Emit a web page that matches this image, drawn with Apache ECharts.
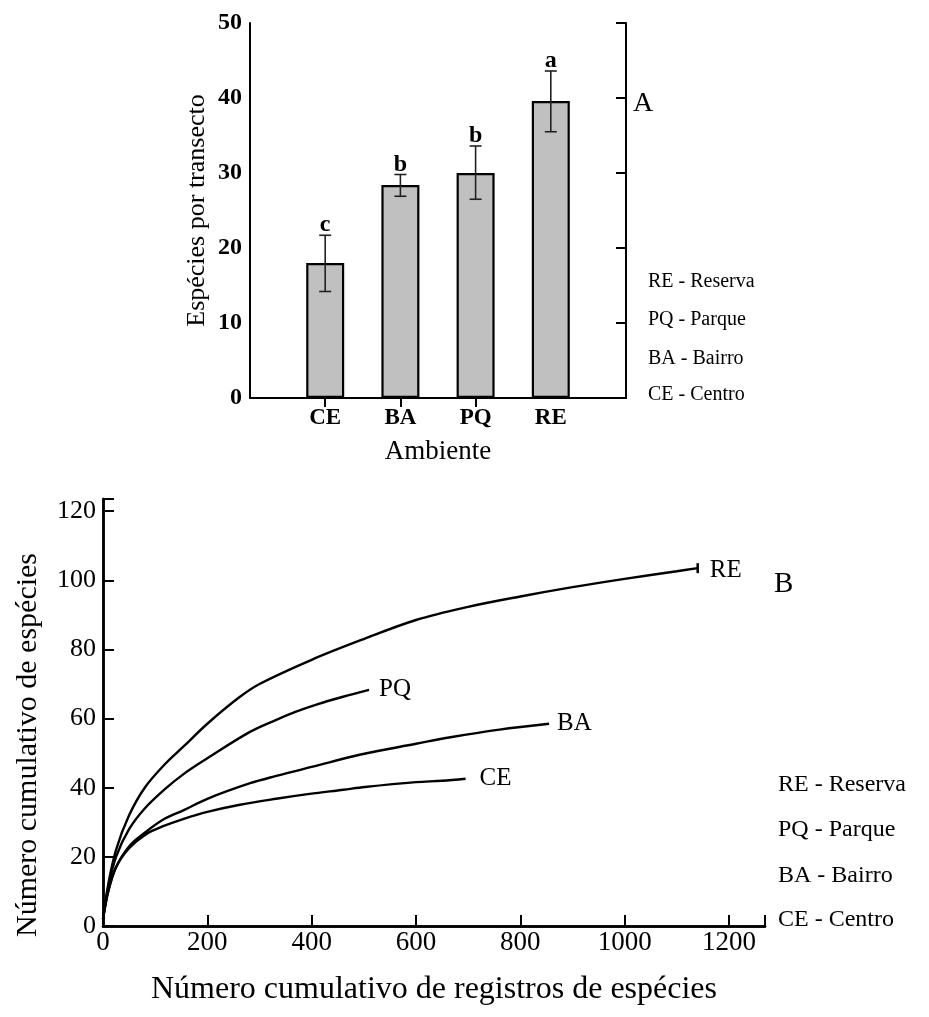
<!DOCTYPE html>
<html>
<head>
<meta charset="utf-8">
<script src="https://cdn.jsdelivr.net/npm/echarts@6/dist/echarts.min.js"></script>
<style>
html,body{margin:0;padding:0;background:#fff;}
#main{width:929px;height:1017px;}
</style>
</head>
<body>
<div id="main"></div>
<script>
// ---------- Panel A data ----------
const categoriesA = ['CE', 'BA', 'PQ', 'RE'];
const meansA = [18.0, 28.4, 30.0, 39.6];
const lowA = [14.2, 26.9, 26.5, 35.5];
const highA = [21.7, 29.8, 33.6, 43.6];
const lettersA = ['c', 'b', 'b', 'a'];
const legendLines = ['RE - Reserva', 'PQ - Parque', 'BA - Bairro', 'CE - Centro'];

// ---------- Panel B data (cumulative species vs cumulative records) ----------
const reX = [0, 10, 25, 50, 80, 120, 155, 200, 260, 300, 400, 500, 600, 700, 800, 900, 1000, 1100, 1140];
const reY = [2, 12, 22, 32, 40, 47, 52, 58.5, 66, 70, 77, 83, 88.5, 92.3, 95.3, 98, 100.4, 102.6, 103.5];
const pqX = [0, 10, 25, 50, 80, 118, 155, 200, 280, 330, 370, 412, 460, 510];
const pqY = [2, 11, 20, 28, 34, 39.5, 44, 48.5, 56, 59.5, 62, 64.2, 66.3, 68.3];
const baX = [0, 10, 25, 50, 82, 118, 155, 200, 282, 332, 400, 494, 600, 666, 760, 855];
const baY = [2, 10, 17, 23, 27.2, 31, 33.5, 36.8, 41.3, 43.4, 46, 49.6, 52.7, 54.6, 56.8, 58.5];
const ceX = [0, 10, 25, 50, 82, 118, 155, 200, 260, 332, 396, 461, 502, 600, 650, 695];
const ceY = [2, 10, 17, 22.5, 26.5, 29, 31, 33, 35, 36.8, 38.2, 39.4, 40.2, 41.6, 42, 42.6];

const serif = '"Liberation Serif","Times New Roman",serif';
const pairs = (xs, ys) => xs.map((x, i) => [x, ys[i]]);

const axisCatA = [''].concat(categoriesA, ['']);
const barData = [null].concat(meansA, [null]);
const errData = categoriesA.map((c, i) => [i + 1, lowA[i], highA[i], lettersA[i]]);

const chart = echarts.init(document.getElementById('main'), null, {renderer: 'canvas'});

const lineSeries = (name, xs, ys, labelOffset, endMark) => {
  const s = {
    type: 'line', name: name, xAxisIndex: 2, yAxisIndex: 2,
    data: pairs(xs, ys), showSymbol: false, symbol: 'none',
    smooth: 0.35,
    lineStyle: {color: '#000', width: 2.4},
    endLabel: {show: true, formatter: name, fontFamily: serif, fontSize: 25, color: '#000', offset: labelOffset},
    silent: true, animation: false, z: 3
  };
  if (endMark) {
    s.markPoint = {
      symbol: 'rect', symbolSize: [2.5, 10], silent: true,
      itemStyle: {color: '#000'}, label: {show: false},
      data: [{coord: [xs[xs.length - 1], ys[ys.length - 1]]}]
    };
  }
  return s;
};

const option = {
  animation: false,
  backgroundColor: '#fff',
  grid: [
    {left: 250, top: 23, width: 376, height: 375},
    {left: 103, top: 499, width: 662, height: 427}
  ],
  xAxis: [
    { // A bottom
      type: 'category', gridIndex: 0, data: axisCatA, boundaryGap: false,
      axisLine: {lineStyle: {color: '#000', width: 2}},
      axisTick: {show: false},
      axisLabel: {fontFamily: serif, fontWeight: 'bold', fontSize: 23, color: '#000', margin: 9, interval: 0},
      name: 'Ambiente', nameLocation: 'middle', nameGap: 40,
      nameTextStyle: {fontFamily: serif, fontSize: 27, color: '#000'}
    },
    { // A top
      type: 'category', gridIndex: 0, data: axisCatA, boundaryGap: false, position: 'top',
      axisLine: {show: true, lineStyle: {color: '#000', width: 2}},
      axisTick: {show: true, inside: true, length: 9, lineStyle: {width: 2, color: '#000'},
                 interval: function (idx) { return idx >= 1 && idx <= 3; }},
      axisLabel: {show: false}
    },
    { // B bottom
      type: 'value', gridIndex: 1, min: 0, max: 1269, interval: 200,
      axisLine: {lineStyle: {color: '#000', width: 2.5}},
      axisTick: {inside: true, length: 11, lineStyle: {width: 2, color: '#000'}},
      splitLine: {show: false},
      axisLabel: {fontFamily: serif, fontSize: 27, color: '#000', margin: 3,
                  formatter: function (v) { return v % 200 === 0 ? String(v) : ''; }},
      name: 'Número cumulativo de registros de espécies', nameLocation: 'middle', nameGap: 48,
      nameTextStyle: {fontFamily: serif, fontSize: 32, color: '#000'}
    },
    { // B top
      type: 'value', gridIndex: 1, min: 0, max: 1269, position: 'top',
      axisLine: {show: true, lineStyle: {color: '#000', width: 2.5}},
      axisTick: {show: false}, axisLabel: {show: false}, splitLine: {show: false}
    }
  ],
  yAxis: [
    { // A left
      type: 'value', gridIndex: 0, min: 0, max: 50, interval: 10,
      axisLine: {show: true, lineStyle: {color: '#000', width: 2}},
      axisTick: {show: false}, splitLine: {show: false},
      axisLabel: {fontFamily: serif, fontWeight: 'bold', fontSize: 24, color: '#000', margin: 8},
      name: 'Espécies por transecto', nameLocation: 'middle', nameGap: 40,
      nameTextStyle: {fontFamily: serif, fontSize: 26, color: '#000'}
    },
    { // A right
      type: 'value', gridIndex: 0, min: 0, max: 50, interval: 10, position: 'right',
      axisLine: {show: true, lineStyle: {color: '#000', width: 2}},
      axisTick: {show: true, inside: true, length: 10, lineStyle: {width: 2, color: '#000'}},
      axisLabel: {show: false}, splitLine: {show: false}
    },
    { // B left
      type: 'value', gridIndex: 1, min: 0, max: 123.5, interval: 20,
      axisLine: {show: true, lineStyle: {color: '#000', width: 2.5}},
      axisTick: {show: true, inside: true, length: 11, lineStyle: {width: 2, color: '#000'}},
      splitLine: {show: false},
      axisLabel: {fontFamily: serif, fontSize: 26, color: '#000', margin: 7,
                  formatter: function (v) { return v % 20 === 0 ? String(v) : ''; }}
    },
    { // B right
      type: 'value', gridIndex: 1, min: 0, max: 123.5, position: 'right',
      axisLine: {show: true, lineStyle: {color: '#000', width: 2.5}},
      axisTick: {show: false}, axisLabel: {show: false}, splitLine: {show: false}
    }
  ],
  series: [
    {
      type: 'bar', xAxisIndex: 0, yAxisIndex: 0, data: barData, barWidth: 38,
      itemStyle: {color: '#c0c0c0', borderColor: '#000', borderWidth: 2.2},
      silent: true, z: 2
    },
    {
      type: 'custom', xAxisIndex: 0, yAxisIndex: 0, data: errData, silent: true, z: 5,
      renderItem: function (params, api) {
        const x = api.value(0);
        const lo = api.coord([x, api.value(1)]);
        const hi = api.coord([x, api.value(2)]);
        const cap = 6;
        const st = {stroke: '#222', lineWidth: 1.6};
        return {
          type: 'group',
          children: [
            {type: 'line', shape: {x1: lo[0], y1: lo[1], x2: hi[0], y2: hi[1]}, style: st},
            {type: 'line', shape: {x1: lo[0] - cap, y1: lo[1], x2: lo[0] + cap, y2: lo[1]}, style: st},
            {type: 'line', shape: {x1: hi[0] - cap, y1: hi[1], x2: hi[0] + cap, y2: hi[1]}, style: st},
            {type: 'text', style: {x: hi[0], y: hi[1] + 2, text: api.value(3),
              font: 'bold 24px ' + serif, fill: '#000', textAlign: 'center', textVerticalAlign: 'bottom'}}
          ]
        };
      },
      encode: {x: 0, y: [1, 2]}
    },
    lineSeries('RE', reX, reY, [4, 2], true),
    lineSeries('PQ', pqX, pqY, [2, 0], false),
    lineSeries('BA', baX, baY, [0, 0], false),
    lineSeries('CE', ceX, ceY, [6, 0], false)
  ],
  graphic: [
    {type: 'text', left: 633, top: 90, style: {text: 'A', font: '28px ' + serif, fill: '#000'}},
    {type: 'text', left: 774, top: 570, style: {text: 'B', font: '29px ' + serif, fill: '#000'}},
    {type: 'text', x: 28, y: 745, rotation: Math.PI / 2,
     style: {text: 'Número cumulativo de espécies', font: '30px ' + serif, fill: '#000',
             textAlign: 'center', textVerticalAlign: 'middle'}}
  ].concat(legendLines.map((t, i) => ({
    type: 'text', left: 648, top: [283, 321, 360, 396][i] - 11,
    style: {text: t, font: '20px ' + serif, fill: '#000'}
  }))).concat(legendLines.map((t, i) => ({
    type: 'text', left: 778, top: [786, 831, 877, 921][i] - 13,
    style: {text: t, font: '24px ' + serif, fill: '#000'}
  })))
};
chart.setOption(option);
</script>
</body>
</html>
